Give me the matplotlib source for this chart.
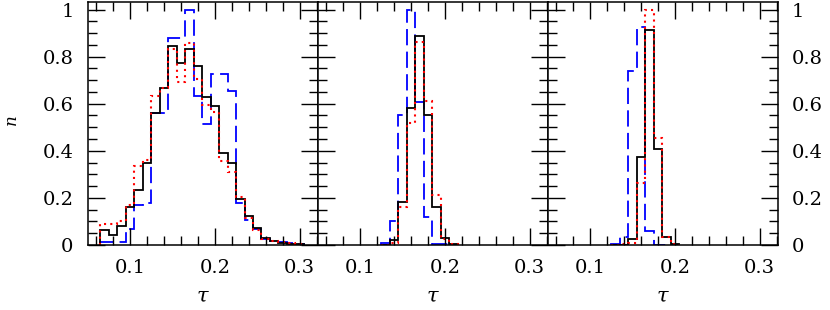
import numpy as np
import matplotlib
matplotlib.use('Agg')
import matplotlib.pyplot as plt
from matplotlib.ticker import MultipleLocator

plt.rcParams['font.family'] = 'DejaVu Serif'
plt.rcParams['mathtext.fontset'] = 'dejavuserif'

# panel 1 (bin edges and heights)
edges1 = [0.065, 0.075, 0.085, 0.095, 0.105, 0.115, 0.125, 0.135, 0.145,
          0.155, 0.165, 0.175, 0.185, 0.195, 0.205, 0.215, 0.225, 0.235,
          0.245, 0.255, 0.265, 0.275, 0.285, 0.295, 0.305]
black1 = [0.064, 0.042, 0.082, 0.163, 0.233, 0.347, 0.562, 0.668, 0.845,
          0.775, 0.834, 0.761, 0.629, 0.590, 0.389, 0.347, 0.194, 0.124,
          0.074, 0.028, 0.018, 0.010, 0.006, 0.003]
red1 = [0.088, 0.088, 0.103, 0.170, 0.337, 0.360, 0.632, 0.668, 0.834,
        0.693, 0.859, 0.704, 0.594, 0.563, 0.358, 0.311, 0.205, 0.113,
        0.064, 0.024, 0.018, 0.011, 0.007, 0.004]
blue1 = [0.012, 0.012, 0.012, 0.069, 0.170, 0.177, 0.559, 0.559, 0.880,
         0.880, 1.000, 0.632, 0.516, 0.728, 0.728, 0.655, 0.180, 0.106,
         0.070, 0.025, 0.018, 0.014, 0.010, 0.006]

# panel 2
edges2 = [0.125, 0.135, 0.145, 0.155, 0.165, 0.175, 0.185, 0.195, 0.205, 0.215]
black2 = [0.0, 0.020, 0.184, 0.580, 0.887, 0.554, 0.163, 0.028, 0.005]
red2 = [0.0, 0.010, 0.163, 0.520, 0.863, 0.612, 0.213, 0.024, 0.005]
blue2 = [0.007, 0.103, 0.550, 1.000, 0.608, 0.120, 0.003, 0.003, 0.0]

# panel 3
edges3 = [0.125, 0.135, 0.145, 0.155, 0.165, 0.175, 0.185, 0.195, 0.205]
black3 = [0.0, 0.0, 0.026, 0.375, 0.913, 0.408, 0.033, 0.003]
red3 = [0.0, 0.003, 0.007, 0.265, 1.000, 0.455, 0.035, 0.004]
blue3 = [0.003, 0.035, 0.740, 0.925, 0.060, 0.0, 0.0, 0.0]

panels = [(edges1, black1, red1, blue1),
          (edges2, black2, red2, blue2),
          (edges3, black3, red3, blue3)]

xticks = [0.1, 0.2, 0.3]
yticks = [0, 0.2, 0.4, 0.6, 0.8, 1]
yticklabels = ['0', '0.2', '0.4', '0.6', '0.8', '1']

fig = plt.figure(figsize=(8.3, 3.1), dpi=100)
W, H = 830.0, 310.0
left, pw, bottom, ph = 87.5, 230.0, 65.0, 243.0

axes = []
for i, (edges, bk, rd, bl) in enumerate(panels):
    ax = fig.add_axes([(left + i * pw) / W, bottom / H, pw / W, ph / H])
    axes.append(ax)
    ax.stairs(bl, edges, color='#0000ff', lw=1.3, ls=(0, (9, 3.5)), baseline=0)
    ax.stairs(bk, edges, color='black', lw=1.3, baseline=0)
    ax.stairs(rd, edges, color='#ff0000', lw=1.5, ls=(0, (1, 2)), baseline=0)
    ax.set_xlim(0.05, 0.321)
    ax.set_ylim(0, 1.032)
    ax.set_xticks(xticks)
    ax.set_xticklabels([str(t) for t in xticks])
    ax.xaxis.set_minor_locator(MultipleLocator(0.02))
    ax.set_yticks(yticks)
    ax.yaxis.set_minor_locator(MultipleLocator(0.05))
    ax.tick_params(which='both', direction='in', top=True, bottom=True,
                   left=True, right=True, width=1.0, labelsize=14)
    ax.tick_params(which='major', length=12, pad=10)
    ax.tick_params(which='minor', length=6.5)
    for s in ax.spines.values():
        s.set_linewidth(1.1)
    ax.set_xlabel(r'$\tau$', fontsize=15, labelpad=7)
    if i == 0:
        ax.set_yticklabels(yticklabels)
        ax.set_ylabel(r'$n$', fontsize=12, va='center')
        ax.yaxis.set_label_coords(-0.325, 0.51)
    elif i == 2:
        ax.yaxis.tick_right()
        ax.yaxis.set_ticks_position('both')
        ax.tick_params(which='both', labelleft=False, labelright=True)
        ax.set_yticklabels(yticklabels)
    else:
        ax.tick_params(which='both', labelleft=False)

fig.savefig('out.png', dpi=100)
